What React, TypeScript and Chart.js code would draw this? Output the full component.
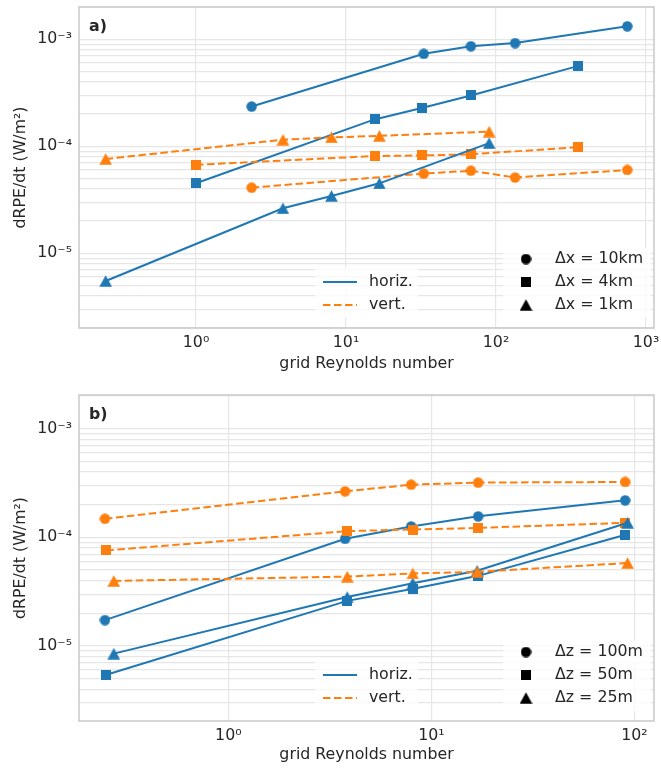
import React, { useEffect, useRef } from 'react';
import { Chart, registerables } from 'chart.js';

Chart.register(...registerables);

const BLUE = '#1f77b4';
const ORANGE = '#ff7f0e';
const TEXT = '#262626';
const GRID = '#e6e6e6';
const FONT = "'DejaVu Sans', sans-serif";
const FS = 15.8;

// ---------- Panel a: grid Reynolds number (x) ----------
const reA10km = [2.35, 33, 68, 134, 750];
const reA4km = [1.0, 15.5, 32, 68, 350];
const reA1km = [0.25, 3.8, 8.0, 16.7, 90];
// Panel a: dRPE/dt values
const horizA10km = [2.35e-4, 7.3e-4, 8.6e-4, 9.2e-4, 1.32e-3];
const vertA10km = [4.1e-5, 5.55e-5, 5.9e-5, 5.1e-5, 6.0e-5];
const horizA4km = [4.5e-5, 1.78e-4, 2.28e-4, 2.98e-4, 5.6e-4];
const vertA4km = [6.7e-5, 8.1e-5, 8.2e-5, 8.4e-5, 9.8e-5];
const horizA1km = [5.5e-6, 2.63e-5, 3.43e-5, 4.5e-5, 1.07e-4];
const vertA1km = [7.6e-5, 1.15e-4, 1.21e-4, 1.25e-4, 1.37e-4];

// ---------- Panel b ----------
const reB100m = [0.247, 3.76, 7.95, 17.0, 90];
const reB50m = [0.251, 3.85, 8.15, 17.0, 89.5];
const reB25m = [0.273, 3.85, 8.1, 16.8, 92.5];
const horizB100m = [1.73e-5, 9.7e-5, 1.26e-4, 1.56e-4, 2.19e-4];
const vertB100m = [1.48e-4, 2.65e-4, 3.05e-4, 3.19e-4, 3.23e-4];
const horizB50m = [5.43e-6, 2.6e-5, 3.37e-5, 4.42e-5, 1.05e-4];
const vertB50m = [7.58e-5, 1.14e-4, 1.18e-4, 1.22e-4, 1.36e-4];
const horizB25m = [8.5e-6, 2.82e-5, 3.78e-5, 4.92e-5, 1.36e-4];
const vertB25m = [3.97e-5, 4.35e-5, 4.65e-5, 4.81e-5, 5.8e-5];

// ---------- Axes ----------
const xRangeA = [0.166, 1130];
const yRangeA = [2.0e-6, 2.0e-3];
const xRangeB = [0.184, 124.8];
const yRangeB = [2.04e-6, 2.04e-3];
const xTicksA = [1, 10, 100, 1000];
const xTicksB = [1, 10, 100];
const yDecades = [-6, -5, -4, -3];
const yMantissas = [1, 2, 3, 4, 5, 6, 7, 8, 9];

const legendLabelsA = ['Δx = 10km', 'Δx = 4km', 'Δx = 1km'];
const legendLabelsB = ['Δz = 100m', 'Δz = 50m', 'Δz = 25m'];
const styleLabels = ['horiz.', 'vert.'];
const xTitle = 'grid Reynolds number';
const yTitle = 'dRPE/dt (W/m²)';

type Shape = 'circle' | 'square' | 'triangle';
const shapes: Shape[] = ['circle', 'square', 'triangle'];

const SUP: Record<string, string> = {
  '-': '⁻', '0': '⁰', '1': '¹', '2': '²', '3': '³', '4': '⁴',
  '5': '⁵', '6': '⁶', '7': '⁷', '8': '⁸', '9': '⁹',
};
function pow10Label(v: number): string {
  const l = Math.log10(v);
  const r = Math.round(l);
  if (Math.abs(l - r) > 1e-6) return '';
  return '10' + String(r).split('').map((c) => SUP[c] || c).join('');
}

function makeMarker(shape: Shape, color: string): HTMLCanvasElement {
  const c = document.createElement('canvas');
  const w = shape === 'triangle' ? 13 : shape === 'circle' ? 11 : 10;
  const h = shape === 'triangle' ? 12 : shape === 'circle' ? 11 : 10;
  c.width = w;
  c.height = h;
  const g = c.getContext('2d')!;
  g.fillStyle = color;
  g.beginPath();
  if (shape === 'circle') {
    g.arc(w / 2, h / 2, 5.2, 0, Math.PI * 2);
  } else if (shape === 'square') {
    g.rect(0, 0, w, h);
  } else {
    g.moveTo(w / 2, 0.2);
    g.lineTo(w - 0.2, h - 0.2);
    g.lineTo(0.2, h - 0.2);
    g.closePath();
  }
  g.fill();
  return c;
}

interface SeriesSpec { xs: number[]; ys: number[]; color: string; dashed: boolean; shape: Shape; }
interface PanelSpec {
  label: string;
  xRange: number[];
  yRange: number[];
  xTicks: number[];
  series: SeriesSpec[];
  markerLabels: string[];
  height: number;
  padTop: number;
  xAxisHeight: number;
  xTitlePad: number;
}

const panelA: PanelSpec = {
  label: 'a)',
  xRange: xRangeA,
  yRange: yRangeA,
  xTicks: xTicksA,
  series: [
    { xs: reA10km, ys: horizA10km, color: BLUE, dashed: false, shape: 'circle' },
    { xs: reA10km, ys: vertA10km, color: ORANGE, dashed: true, shape: 'circle' },
    { xs: reA4km, ys: horizA4km, color: BLUE, dashed: false, shape: 'square' },
    { xs: reA4km, ys: vertA4km, color: ORANGE, dashed: true, shape: 'square' },
    { xs: reA1km, ys: horizA1km, color: BLUE, dashed: false, shape: 'triangle' },
    { xs: reA1km, ys: vertA1km, color: ORANGE, dashed: true, shape: 'triangle' },
  ],
  markerLabels: legendLabelsA,
  height: 386,
  padTop: 3,
  xAxisHeight: 58,
  xTitlePad: 12.5,
};

const panelB: PanelSpec = {
  label: 'b)',
  xRange: xRangeB,
  yRange: yRangeB,
  xTicks: xTicksB,
  series: [
    { xs: reB100m, ys: horizB100m, color: BLUE, dashed: false, shape: 'circle' },
    { xs: reB100m, ys: vertB100m, color: ORANGE, dashed: true, shape: 'circle' },
    { xs: reB50m, ys: horizB50m, color: BLUE, dashed: false, shape: 'square' },
    { xs: reB50m, ys: vertB50m, color: ORANGE, dashed: true, shape: 'square' },
    { xs: reB25m, ys: horizB25m, color: BLUE, dashed: false, shape: 'triangle' },
    { xs: reB25m, ys: vertB25m, color: ORANGE, dashed: true, shape: 'triangle' },
  ],
  markerLabels: legendLabelsB,
  height: 387,
  padTop: 9,
  xAxisHeight: 52,
  xTitlePad: 8.5,
};

function yTickValues(min: number, max: number) {
  const out: { value: number }[] = [];
  for (const d of yDecades) {
    for (const m of yMantissas) {
      const v = m * Math.pow(10, d);
      if (v >= min * 0.999 && v <= max * 1.001) out.push({ value: v });
    }
  }
  return out;
}

function Panel({ spec, top }: { spec: PanelSpec; top: number }) {
  const ref = useRef<HTMLCanvasElement>(null);
  useEffect(() => {
    const canvas = ref.current!;
    const n = spec.series.length;
    const datasets = spec.series.map((s, i) => ({
      data: s.xs.map((x, j) => ({ x, y: s.ys[j] })),
      showLine: true,
      borderColor: s.color,
      backgroundColor: s.color,
      borderWidth: 2,
      borderDash: s.dashed ? [7.5, 3.5] : [],
      pointStyle: makeMarker(s.shape, s.color),
      pointRadius: 5,
      pointHoverRadius: 5,
      tension: 0,
      order: n - i,
    }));
    const blackMarkers = shapes.map((sh) => makeMarker(sh, '#000000'));

    const decor = {
      id: 'decor',
      afterDatasetsDraw(chart: any) {
        const { ctx, chartArea: a } = chart;
        ctx.save();
        // frame
        ctx.strokeStyle = '#cccccc';
        ctx.lineWidth = 1.6;
        ctx.strokeRect(a.left, a.top, a.right - a.left, a.bottom - a.top);
        // panel label
        ctx.fillStyle = TEXT;
        ctx.font = `bold ${FS}px ${FONT}`;
        ctx.textAlign = 'left';
        ctx.textBaseline = 'alphabetic';
        ctx.fillText(spec.label, a.left + 10, a.top + 23.5);
        // legend backgrounds
        ctx.fillStyle = 'rgba(255,255,255,0.8)';
        ctx.fillRect(315, a.bottom - 61, 103, 51);
        ctx.fillRect(503, a.bottom - 80, 148, 70);
        // line-style legend
        ctx.font = `${FS}px ${FONT}`;
        ctx.textBaseline = 'middle';
        const rows1 = [a.bottom - 46, a.bottom - 23];
        [BLUE, ORANGE].forEach((c, i) => {
          ctx.strokeStyle = c;
          ctx.lineWidth = 2;
          ctx.setLineDash(i === 1 ? [7.5, 3.5] : []);
          ctx.beginPath();
          ctx.moveTo(323, rows1[i]);
          ctx.lineTo(357, rows1[i]);
          ctx.stroke();
          ctx.setLineDash([]);
          ctx.fillStyle = TEXT;
          ctx.fillText(styleLabels[i], 369, rows1[i]);
        });
        // marker legend
        const rows2 = [a.bottom - 69, a.bottom - 46, a.bottom - 23];
        blackMarkers.forEach((m, i) => {
          ctx.drawImage(m, 526 - m.width / 2, rows2[i] - m.height / 2);
          ctx.fillStyle = TEXT;
          ctx.fillText(spec.markerLabels[i], 555, rows2[i]);
        });
        ctx.restore();
      },
    };

    const tickFont = { family: FONT, size: FS };
    const chart = new Chart(canvas, {
      type: 'scatter',
      data: { datasets: datasets as any },
      plugins: [decor],
      options: {
        animation: false,
        responsive: false,
        events: [],
        layout: { padding: { top: spec.padTop, right: 3, left: 0, bottom: 0 } },
        plugins: { legend: { display: false }, tooltip: { enabled: false } },
        scales: {
          x: {
            type: 'logarithmic',
            min: spec.xRange[0],
            max: spec.xRange[1],
            border: { display: false },
            grid: { color: GRID, lineWidth: 1.2, drawTicks: false },
            ticks: {
              autoSkip: false,
              maxRotation: 0,
              minRotation: 0,
              padding: 5.5,
              color: TEXT,
              font: tickFont,
              callback: (v: any) => pow10Label(Number(v)),
            },
            title: {
              display: true,
              text: xTitle,
              color: TEXT,
              font: { family: FONT, size: FS },
              padding: { top: 0, bottom: spec.xTitlePad },
            },
            afterBuildTicks: (scale: any) => {
              scale.ticks = spec.xTicks.map((v) => ({ value: v }));
            },
            afterFit: (scale: any) => {
              scale.height = spec.xAxisHeight;
              scale.paddingLeft = 0;
              scale.paddingRight = 0;
            },
          },
          y: {
            type: 'logarithmic',
            min: spec.yRange[0],
            max: spec.yRange[1],
            border: { display: false },
            grid: { color: GRID, lineWidth: 1.2, drawTicks: false },
            ticks: {
              autoSkip: false,
              padding: 7,
              color: TEXT,
              font: tickFont,
              callback: (v: any) => pow10Label(Number(v)),
            },
            title: {
              display: true,
              text: yTitle,
              color: TEXT,
              font: { family: FONT, size: FS },
              padding: { top: 11.5, bottom: 0 },
            },
            afterBuildTicks: (scale: any) => {
              scale.ticks = yTickValues(spec.yRange[0], spec.yRange[1]);
            },
            afterFit: (scale: any) => {
              scale.width = 79;
              scale.paddingTop = 0;
              scale.paddingBottom = 0;
            },
          },
        },
      } as any,
    });
    return () => chart.destroy();
  }, [spec]);
  return (
    <canvas
      ref={ref}
      width={661}
      height={spec.height}
      style={{ position: 'absolute', left: 0, top, width: 661, height: spec.height, display: 'block' }}
    />
  );
}

export default function App() {
  return (
    <div style={{ position: 'absolute', left: 0, top: 0, width: 661, height: 773, background: '#ffffff' }}>
      <Panel spec={panelA} top={0} />
      <Panel spec={panelB} top={386} />
    </div>
  );
}
